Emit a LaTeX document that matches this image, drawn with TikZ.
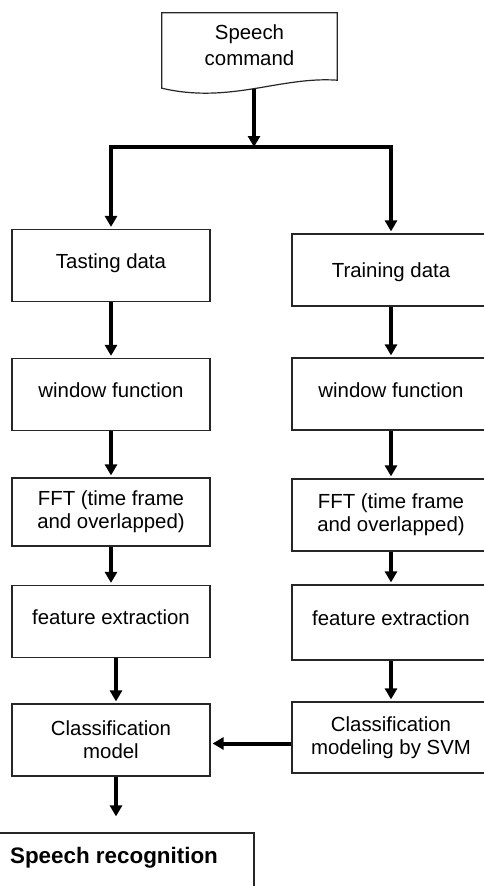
\documentclass[tikz,border=0pt]{standalone}
\usepackage{fontspec}
\setmainfont{Liberation Sans}
\usetikzlibrary{arrows.meta}

\tikzset{
  box/.style={draw=black!85, line width=1.2pt, minimum width=198pt, minimum height=72pt,
    inner sep=0pt, align=center, font=\fontsize{20.4}{23}\selectfont},
  onebox/.style={box, text height=15pt, text depth=9pt},
  flow/.style={line width=4pt, -{Triangle[width=12pt,length=11pt]}, shorten >=2pt},
}

\begin{document}
\begin{tikzpicture}[x=1pt,y=-1pt]
\useasboundingbox (0,0) rectangle (484,886);
\clip (0,0) rectangle (484,886);

% speech command (document shape)
\node[align=center, font=\fontsize{20.4}{26}\selectfont, minimum width=175pt,
  minimum height=64pt, inner sep=0pt] (cmd) at (249.5,45) {Speech\\command};
\draw[line width=1.2pt, black!85] (cmd.north west) -- (cmd.north east)
  -- ([yshift=-3pt]cmd.south east) .. controls +(-57,-4) and +(68,16) .. ([yshift=-11pt]cmd.south west)
  -- cycle;
\coordinate (docfoot) at (254,89);
\coordinate (split) at (254,147);

% left column
\node[onebox] (tasting) at (111,265.5) {Tasting data};
\node[onebox] (winL) at (111,394.5) {window function};
\node[box, minimum height=68pt] (fftL) at (111,512) {FFT (time frame\\and overlapped)};
\node[onebox] (featL) at (111,621.5) {feature extraction};
\node[box] (clsL) at (111,740) {Classification\\model};
\node[draw=black!85, line width=1.2pt, minimum width=280pt, minimum height=60pt, inner sep=0pt,
  font=\fontsize{22.4}{26}\selectfont\bfseries, text height=16pt, text depth=16pt]
  (recog) at (114,863) {Speech recognition};

% right column
\node[onebox, text depth=0pt] (training) at (391,270) {Training data};
\node[onebox] (winR) at (391,394) {window function};
\node[box] (fftR) at (391,515) {FFT (time frame\\and overlapped)};
\node[onebox, minimum height=75pt] (featR) at (391,622.5) {feature extraction};
\node[box, minimum height=71pt] (clsR) at (391,737.5) {Classification\\modeling by SVM};

% arrows
\draw[flow, shorten >=0pt] (docfoot) -- (split);
\draw[flow] (split) -| (tasting.north);
\draw[flow] (split) -| (training.north);
\draw[flow] (tasting) -- (winL);
\draw[flow] (winL) -- (fftL);
\draw[flow] (fftL) -- (featL);
\draw[flow] ([xshift=5pt]featL.south) -- ([xshift=5pt]clsL.north);
\draw[flow] (training) -- (winR);
\draw[flow] (winR) -- (fftR);
\draw[flow] (fftR) -- (featR);
\draw[flow] (featR) -- (clsR);
\draw[flow] ([yshift=-6pt]clsR.west) -- ([yshift=-6pt]clsR.west -| clsL.east);
\draw[flow, shorten >=16pt] ([xshift=5pt]clsL.south) -- ([xshift=5pt]clsL.south |- recog.north);
\end{tikzpicture}
\end{document}
